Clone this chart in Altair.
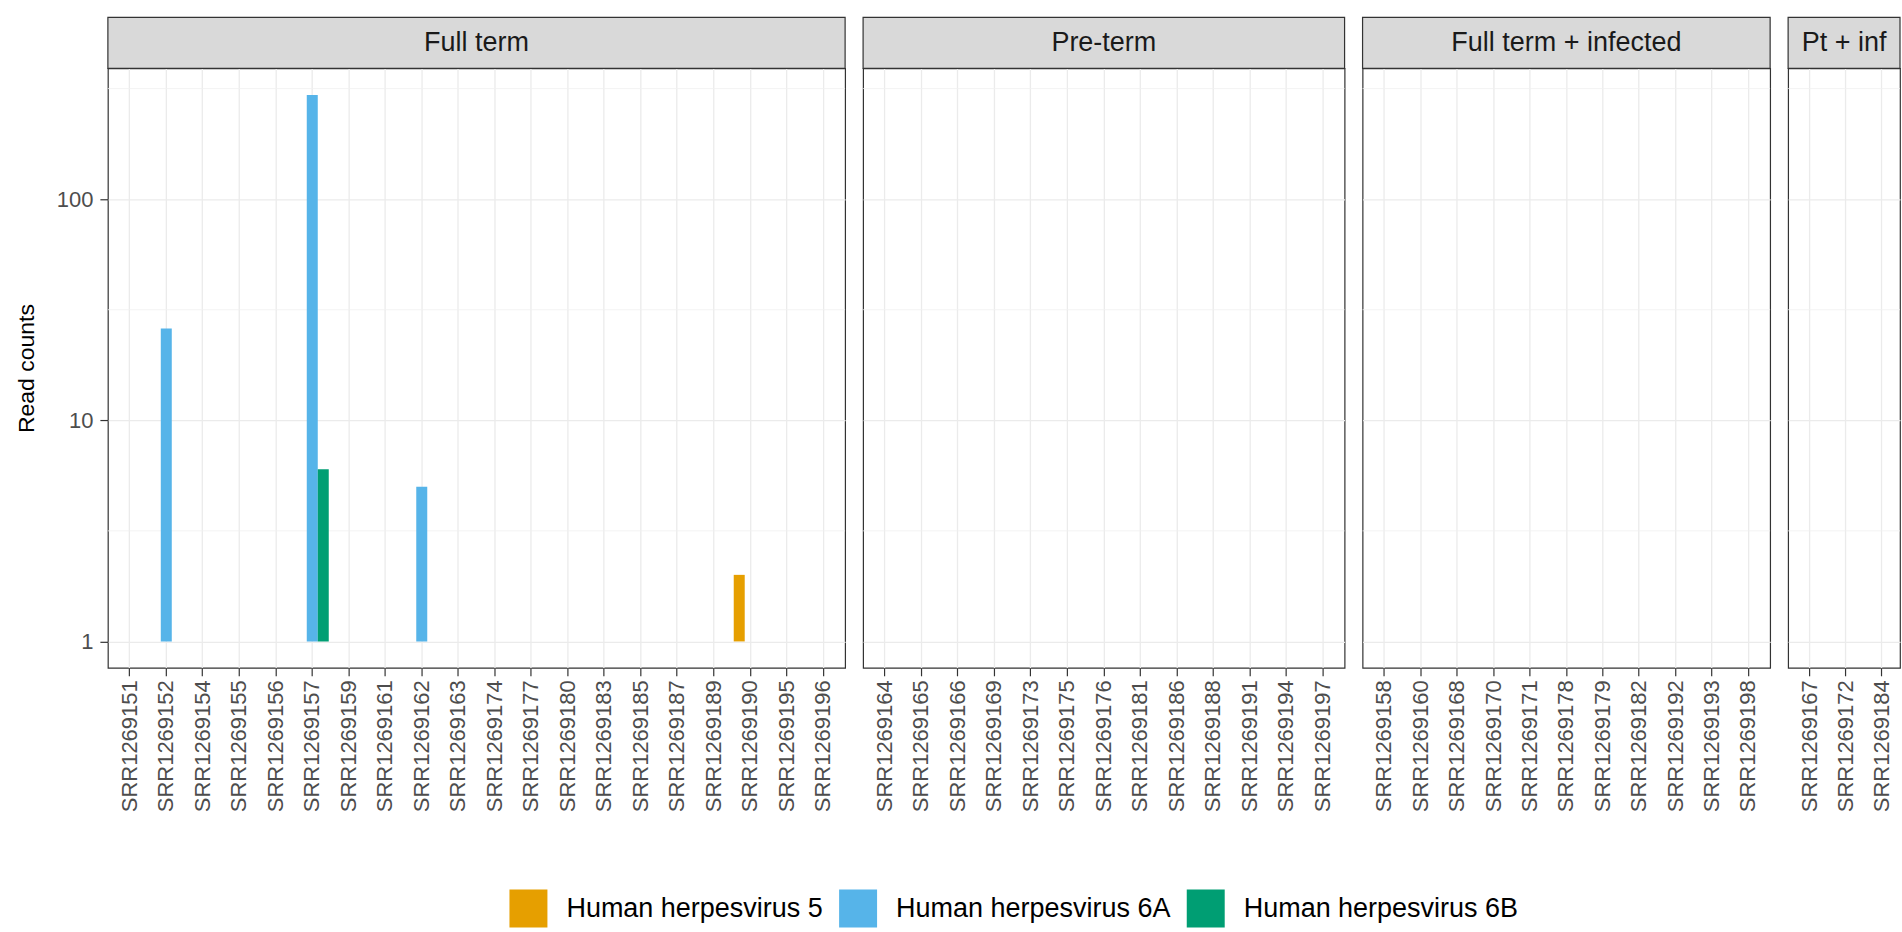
import altair as alt
import pandas as pd

# Samples in each clinical group, in axis order
FULL_TERM = ["SRR1269151", "SRR1269152", "SRR1269154", "SRR1269155", "SRR1269156",
             "SRR1269157", "SRR1269159", "SRR1269161", "SRR1269162", "SRR1269163",
             "SRR1269174", "SRR1269177", "SRR1269180", "SRR1269183", "SRR1269185",
             "SRR1269187", "SRR1269189", "SRR1269190", "SRR1269195", "SRR1269196"]
PRE_TERM = ["SRR1269164", "SRR1269165", "SRR1269166", "SRR1269169", "SRR1269173",
            "SRR1269175", "SRR1269176", "SRR1269181", "SRR1269186", "SRR1269188",
            "SRR1269191", "SRR1269194", "SRR1269197"]
FT_INF = ["SRR1269158", "SRR1269160", "SRR1269168", "SRR1269170", "SRR1269171",
          "SRR1269178", "SRR1269179", "SRR1269182", "SRR1269192", "SRR1269193",
          "SRR1269198"]
PT_INF = ["SRR1269167", "SRR1269172", "SRR1269184"]

GROUPS = ["Full term", "Pre-term", "Full term + infected", "Pt + inf"]
GROUP_SAMPLES = [FULL_TERM, PRE_TERM, FT_INF, PT_INF]
PANEL_WIDTHS = [738, 482, 408, 112]

VIRUSES = ["Human herpesvirus 5", "Human herpesvirus 6A", "Human herpesvirus 6B"]
VIRUS_COLORS = ["#E69F00", "#56B4E9", "#009E73"]

# Viral read counts detected per sample
HIT_SAMPLE = ["SRR1269152", "SRR1269157", "SRR1269157", "SRR1269162", "SRR1269190"]
HIT_VIRUS = ["Human herpesvirus 6A", "Human herpesvirus 6A", "Human herpesvirus 6B",
             "Human herpesvirus 6A", "Human herpesvirus 5"]
HIT_READS = [26, 296, 6, 5, 2]

MAJOR_BREAKS = [1, 10, 100]
MINOR_BREAKS = [3.162, 31.62, 316.2]

reads = pd.DataFrame({"sample": HIT_SAMPLE, "virus": HIT_VIRUS, "reads": HIT_READS})

FONT = "Liberation Sans"
GRID = "#EBEBEB"
DARK = "#333333"
PANEL_H = 600
STRIP_H = 51

y_scale = alt.Scale(type="log", domain=[0.76, 390], nice=False)
color_legend = alt.Legend(
    orient="none", legendX=402, legendY=822, direction="horizontal", title=None,
    symbolType="square", symbolSize=1444, symbolStrokeWidth=0,
    labelFontSize=27, labelFont=FONT, labelColor="#000000", labelOffset=19,
    columnPadding=16, labelLimit=600,
)


def y_axis_for(i):
    if i == 0:
        return alt.Axis(
            values=MAJOR_BREAKS, format="d", title="Read counts",
            titleFontSize=23, titleFont=FONT, titleFontWeight="normal",
            titleColor="#000000", titlePadding=18,
            labelFontSize=22, labelFont=FONT, labelColor="#4D4D4D",
            labelPadding=7, tickColor=DARK, tickSize=8, tickWidth=1.2,
            domain=False, grid=True, gridColor=GRID, gridWidth=1.3,
        )
    return alt.Axis(
        values=MAJOR_BREAKS, labels=False, ticks=False, domain=False,
        title=None, grid=True, gridColor=GRID, gridWidth=1.3,
    )


def panel(i):
    group = GROUPS[i]
    samples = GROUP_SAMPLES[i]
    w = PANEL_WIDTHS[i]
    last = i == len(GROUPS) - 1
    hits = reads[reads["sample"].isin(samples)].reset_index(drop=True)

    x_scale = alt.Scale(domain=samples, paddingInner=0,
                        paddingOuter=0.05 if last else 0.1,
                        align=1 if last else 0.5)
    x_axis = alt.Axis(
        title=None, labelAngle=-90, labelFontSize=22, labelFont=FONT,
        labelColor="#4D4D4D", labelPadding=4, labelOverlap=False,
        tickColor=DARK, tickSize=8, tickWidth=1.2, domain=False,
        grid=True, gridColor=GRID, gridWidth=1.3, bandPosition=0.5,
    )
    y_axis = y_axis_for(i)

    # minor log gridlines between the labelled breaks
    minor = alt.Chart(pd.DataFrame({"v": MINOR_BREAKS})).mark_rule(
        color="#F0F0F0", strokeWidth=0.8
    ).encode(y=alt.Y("v:Q", scale=y_scale, axis=y_axis))

    bars = alt.Chart(hits).mark_bar().encode(
        x=alt.X("sample:N", scale=x_scale, axis=x_axis, sort=samples),
        xOffset=alt.XOffset("virus:N", scale=alt.Scale(domain=VIRUSES, paddingInner=0,
                                                      paddingOuter=0.16)),
        y=alt.Y("reads:Q", scale=y_scale, axis=y_axis),
        y2=alt.datum(1),
        color=alt.Color("virus:N", scale=alt.Scale(domain=VIRUSES, range=VIRUS_COLORS),
                        legend=color_legend),
    )

    # facet strip above the panel
    strip_df = pd.DataFrame({"group": [group]})
    strip_box = alt.Chart(strip_df).mark_rect(
        fill="#D9D9D9", stroke=DARK, strokeWidth=1.2
    ).encode(x=alt.value(0), x2=alt.value(w), y=alt.value(-STRIP_H), y2=alt.value(0))
    strip_text = alt.Chart(strip_df).mark_text(
        fontSize=27, font=FONT, color="#1A1A1A", baseline="middle", align="center"
    ).encode(text="group:N", x=alt.value(w / 2), y=alt.value(-STRIP_H / 2))

    return alt.layer(minor, bars, strip_box, strip_text).properties(width=w, height=PANEL_H)


chart = alt.hconcat(*[panel(i) for i in range(len(GROUPS))], spacing=14).properties(
    padding={"left": 14, "top": 15, "right": 0, "bottom": 0},
    background="#FFFFFF",
).configure_view(
    stroke=DARK, strokeWidth=1.2
)

chart.save("out.html", embed_options={"renderer": "svg", "actions": False})
